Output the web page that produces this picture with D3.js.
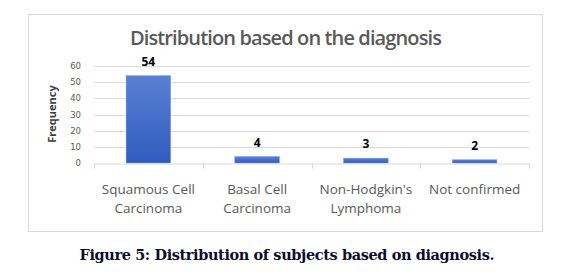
<!DOCTYPE html>
<html>
<head>
<meta charset="utf-8">
<script src="https://cdn.jsdelivr.net/npm/d3@7"></script>
<style>
  body { margin: 0; background: #fff; }
</style>
</head>
<body>
<div class="chart"></div>
<script>
const categories = [["Squamous Cell", "Carcinoma"], ["Basal Cell", "Carcinoma"], ["Non-Hodgkin's", "Lymphoma"], ["Not confirmed"]]
const values = [54, 4, 3, 2]
const yTicks = [0, 10, 20, 30, 40, 50, 60]

const width = 574
const height = 280
const plot = {left: 94, right: 529, top: 66, bottom: 163}

const svg = d3.select(".chart").append("svg")
  .attr("width", width)
  .attr("height", height)

// bar gradient
const grad = svg.append("defs").append("linearGradient")
  .attr("id", "barGrad")
  .attr("x1", 0).attr("y1", 0).attr("x2", 0).attr("y2", 1)
grad.append("stop").attr("offset", "0%").attr("stop-color", "#5b80d2")
grad.append("stop").attr("offset", "100%").attr("stop-color", "#2f5cc0")

// chart frame
svg.append("rect")
  .attr("x", 28.5).attr("y", 14.5)
  .attr("width", 514).attr("height", 217)
  .attr("fill", "#fff")
  .attr("stroke", "#d9d9d9")

const x = d3.scaleBand()
  .domain(d3.range(values.length))
  .range([plot.left, plot.right])

const y = d3.scaleLinear()
  .domain([0, 60])
  .range([plot.bottom, plot.top])

// gridlines
svg.append("g").selectAll("line")
  .data(yTicks.slice(1))
  .enter().append("line")
  .attr("x1", plot.left).attr("x2", plot.right)
  .attr("y1", d => Math.round(y(d)) + 0.5)
  .attr("y2", d => Math.round(y(d)) + 0.5)
  .attr("stroke", "#d9d9d9")

// y tick labels
svg.append("g").selectAll("text")
  .data(yTicks)
  .enter().append("text")
  .attr("x", 81)
  .attr("y", d => y(d) + 3)
  .attr("text-anchor", "end")
  .attr("font-family", "DejaVu Sans")
  .attr("font-size", "8.5px")
  .attr("fill", "#595959")
  .text(d => d)

// x axis
const xAxis = svg.append("g")
  .attr("transform", `translate(0, ${Math.round(y(0)) + 0.5})`)
  .call(d3.axisBottom(x).tickSize(0).tickFormat(""))
xAxis.select(".domain").attr("stroke", "#d9d9d9")
xAxis.selectAll(".tick").remove()
xAxis.selectAll(".sep")
  .data(d3.range(values.length + 1))
  .enter().append("line")
  .attr("x1", i => Math.round(plot.left + i * x.step()) + 0.5)
  .attr("x2", i => Math.round(plot.left + i * x.step()) + 0.5)
  .attr("y1", 0).attr("y2", 5)
  .attr("stroke", "#d9d9d9")

// bars
const bw = x.bandwidth() * 0.41
svg.append("g").selectAll("rect")
  .data(values)
  .enter().append("rect")
  .attr("x", (d, i) => x(i) + x.bandwidth() / 2 - bw / 2)
  .attr("y", d => y(d))
  .attr("width", bw)
  .attr("height", d => y(0) - y(d))
  .attr("fill", "url(#barGrad)")
  .attr("stroke", "#7f9ad8")
  .attr("stroke-width", 0.5)

// data labels
svg.append("g").selectAll("text")
  .data(values)
  .enter().append("text")
  .attr("x", (d, i) => x(i) + x.bandwidth() / 2)
  .attr("y", d => y(d) - 10)
  .attr("text-anchor", "middle")
  .attr("font-family", "Open Sans")
  .attr("font-weight", "bold")
  .attr("font-size", "12px")
  .attr("fill", "#000")
  .text(d => d)

// category labels
const catG = svg.append("g").selectAll("text")
  .data(categories)
  .enter().append("text")
  .attr("x", (d, i) => x(i) + x.bandwidth() / 2)
  .attr("y", 194)
  .attr("text-anchor", "middle")
  .attr("font-family", "Open Sans")
  .attr("font-size", "13.5px")
  .attr("fill", "#595959")
catG.selectAll("tspan")
  .data(d => d)
  .enter().append("tspan")
  .attr("x", function() { return d3.select(this.parentNode).attr("x") })
  .attr("dy", (d, i) => i === 0 ? 0 : 19)
  .text(d => d)

// axis title
svg.append("text")
  .attr("transform", "translate(56, 114) rotate(-90)")
  .attr("text-anchor", "middle")
  .attr("font-family", "Open Sans")
  .attr("font-weight", "bold")
  .attr("font-size", "11px")
  .attr("fill", "#404040")
  .text("Frequency")

// chart title
svg.append("text")
  .attr("x", 286)
  .attr("y", 45)
  .attr("text-anchor", "middle")
  .attr("font-family", "Open Sans")
  .attr("font-weight", 600)
  .attr("font-size", "20px")
  .attr("textLength", 312)
  .attr("fill", "#595959")
  .text("Distribution based on the diagnosis")

// figure caption
svg.append("text")
  .attr("x", 287)
  .attr("y", 260)
  .attr("text-anchor", "middle")
  .attr("font-family", "DejaVu Serif")
  .attr("font-weight", "bold")
  .attr("font-size", "14.5px")
  .attr("textLength", 415)
  .attr("fill", "#0d0d2b")
  .text("Figure 5: Distribution of subjects based on diagnosis.")
</script>
</body>
</html>
